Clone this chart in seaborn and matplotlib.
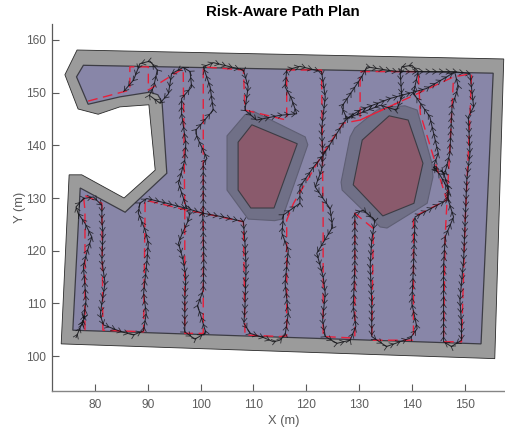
import numpy as np
import pandas as pd
import matplotlib
matplotlib.use("Agg")
import matplotlib.pyplot as plt
from matplotlib.collections import LineCollection
import seaborn as sns

TITLE = "Risk-Aware Path Plan"
XTICKS = [80, 90, 100, 110, 120, 130, 140, 150]
YTICKS = [100, 110, 120, 130, 140, 150, 160]

outer_x = [76.6, 74.3, 76.8, 80.6, 84.7, 90.2, 91.4, 85.5, 77.5, 75.1, 73.6, 155.7, 157.4]
outer_y = [158.1, 153.4, 146.9, 145.9, 147.3, 147.7, 135.3, 130.0, 134.4, 134.4, 102.3, 99.5, 156.4]
inner_x = [77.8, 76.5, 78.7, 84.7, 90.4, 91.9, 92.7, 93.6, 85.7, 77.2, 75.8, 153.1, 155.4]
inner_y = [155.2, 153.0, 147.8, 149.2, 150.1, 149.6, 148.2, 134.7, 127.3, 131.9, 104.9, 102.3, 153.7]
band1_x = [108.4, 109.9, 119.8, 120.3, 115.4, 114.0, 109.0, 105.0, 105.0]
band1_y = [145.8, 146.5, 141.6, 140.1, 126.0, 125.7, 126.0, 131.5, 141.8]
risk1_x = [109.7, 118.3, 113.9, 109.5, 107.1, 107.1]
risk1_y = [143.9, 140.3, 128.1, 128.1, 131.5, 140.6]
band2_x = [129.2, 133.4, 135.9, 138.7, 141.0, 143.8, 144.0, 142.9, 135.3, 134.0, 126.8, 126.6, 128.3]
band2_y = [143.3, 146.7, 147.3, 147.5, 146.7, 136.6, 134.0, 129.0, 124.3, 124.5, 131.5, 133.0, 141.6]
risk2_x = [135.7, 139.3, 142.1, 140.4, 134.5, 128.9, 130.6]
risk2_y = [145.6, 144.8, 136.6, 129.0, 126.6, 132.5, 141.0]

plan1_x = [78.1, 78.1, 77.8, 81.3, 81.5, 89.2, 89.5, 97.4, 100.5, 108.1, 108.4, 115.0, 116.3, 116.3, 117.6, 123.2, 127.0, 130.2, 137.8]
plan1_y = [104.9, 127.7, 130.6, 129.0, 104.9, 104.6, 129.6, 127.7, 127.1, 125.5, 104.0, 103.7, 103.8, 125.8, 129.0, 138.5, 144.2, 144.8, 148.3]
plan2_x = [78.7, 86.6, 86.6, 90.1, 90.1, 96.7, 97.0, 97.0, 100.5, 100.5, 100.5, 108.1, 108.4, 115.0, 116.3, 116.3, 122.9, 123.2,
           123.2, 129.2, 129.2, 132.7, 132.4, 140.3, 140.3, 146.6, 141.6, 141.2, 130.2, 130.2]
plan2_y = [148.4, 150.5, 154.9, 154.9, 150.5, 154.6, 127.7, 104.3, 104.3, 127.1, 154.9, 154.3, 146.7, 145.1, 144.8, 154.3, 154.3, 125.8,
           103.7, 103.4, 127.1, 124.2, 103.0, 103.0, 126.4, 129.6, 146.0, 154.0, 154.0, 144.8]
plan3_x = [130.2, 137.8, 147.9, 151.3, 151.0, 150.1, 149.4, 146.0, 146.3, 147.9]
plan3_y = [144.8, 148.3, 153.0, 153.6, 145.4, 125.8, 102.7, 102.7, 122.6, 153.0]

track1_x = [76.4, 77.8, 77.6, 77.9, 77.7, 78.0, 77.8, 78.3, 78.1, 77.8, 78.4, 79.4, 78.1, 76.8, 76.4, 77.8, 79.7, 81.3, 81.3, 81.5,
            81.3, 81.9, 81.3, 81.0, 81.6, 85.0, 87.3, 89.2, 89.7, 89.2, 89.8, 90.1, 89.5, 88.2, 88.5, 89.8, 93.6, 97.4,
            100.5, 104.3, 108.1, 108.4, 108.6, 108.5, 108.4, 108.2, 109.4, 111.9, 113.8, 115.0, 116.0, 116.6, 116.0,
            116.6, 115.4, 115.7, 118.8, 118.8, 121.4, 123.2, 127.0, 128.0, 130.2, 135.9, 142.8, 146.6, 148.2]
track1_y = [103.5, 106.8, 106.0, 107.2, 106.3, 107.6, 106.8, 110.6, 113.2, 117.0, 119.5, 122.6, 125.2, 127.1, 128.3, 129.9, 130.2, 128.6,
            125.8, 123.3, 118.2, 113.8, 110.0, 107.8, 105.9, 104.6, 104.0, 104.8, 108.1, 111.9, 117.6, 121.4, 123.9, 127.1, 129.0, 129.9,
            129.0, 128.0, 127.1, 126.4, 125.5, 121.4, 117.0, 113.2, 109.4, 106.2, 104.3, 103.5, 102.7, 103.0, 104.0, 108.1, 113.8,
            120.1, 123.3, 126.8, 129.0, 132.1, 135.9, 138.1, 144.2, 145.3, 146.7, 148.9, 150.8, 153.0, 154.0]
track2_x = [97.4, 95.8, 97.0, 97.2, 96.4, 96.4, 98.3, 98.0, 96.7, 94.5, 93.9, 92.3, 90.3, 91.1, 91.8, 90.4, 88.5, 87.3, 85.4]
track2_y = [128.0, 132.8, 137.2, 140.4, 146.0, 148.9, 151.1, 154.0, 154.8, 153.6, 149.8, 148.0, 149.5, 151.1, 154.3, 156.0, 155.5, 152.4, 150.2]
track3_x = [98.0, 97.7, 96.4, 95.8, 96.7, 97.2, 97.0, 97.0, 98.9, 101.0, 99.9, 99.4, 100.5, 100.6, 100.5, 100.4, 100.5, 100.5, 101.2,
            99.3, 99.1, 99.9, 102.4, 101.8, 100.5, 102.4, 108.1, 109.0, 108.4, 110.6, 115.0, 118.2, 117.2, 116.0, 116.3,
            118.8, 122.9, 123.6, 122.9, 123.2, 122.9, 121.7, 124.5, 125.0, 122.0, 123.2, 123.6, 123.1, 123.6, 125.8,
            128.3, 129.4, 128.9, 129.2, 129.2, 130.8, 133.0, 132.4, 132.1, 132.4, 132.4, 135.2, 139.7, 141.0, 140.0,
            140.3, 140.6, 146.6, 147.0, 145.3, 144.1, 144.7, 144.2, 145.0, 143.4, 140.3, 141.2, 140.0, 138.1, 137.8, 138.1,
            137.1, 134.0, 127.7, 126.7, 130.5, 131.5, 137.1, 141.6, 147.9, 151.0, 151.7, 150.7, 151.0, 150.4, 150.1,
            149.8, 149.1, 149.4, 149.4, 147.5, 146.0, 146.0, 146.3, 147.9, 146.9, 146.9, 146.0, 145.5, 146.2, 147.2, 147.6, 148.8, 148.2]
track3_y = [127.4, 125.8, 123.0, 121.4, 118.2, 115.1, 110.6, 104.6, 103.2, 104.4, 108.1, 109.5, 112.5, 118.2, 123.3, 127.1, 127.7, 136.6, 137.5,
            141.6, 142.9, 143.8, 146.7, 151.1, 154.9, 155.7, 154.3, 151.1, 146.7, 144.8, 145.7, 146.0, 148.9, 151.1, 154.3,
            155.0, 154.0, 149.2, 142.9, 137.8, 135.3, 132.1, 128.0, 124.5, 119.5, 115.1, 111.9, 106.8, 103.7, 102.4,
            103.0, 105.6, 109.4, 116.9, 127.1, 127.7, 125.8, 122.0, 116.9, 110.6, 103.7, 101.8, 103.4, 105.2, 110.0,
            116.9, 126.4, 129.6, 131.5, 134.4, 135.9, 135.0, 136.3, 138.5, 145.4, 149.9, 154.0, 155.2, 154.9, 153.6, 149.2,
            146.7, 147.6, 145.1, 147.3, 153.0, 154.9, 154.0, 154.0, 154.0, 153.6, 147.3, 145.4, 138.5, 133.4, 125.8,
            118.2, 110.6, 106.2, 103.0, 101.8, 102.7, 116.9, 122.6, 126.4, 129.6, 132.1, 134.7, 135.3, 134.5, 138.5, 147.3, 151.1, 153.6]

C_GRAY = "#9b9b9b"
C_FIELD = "#8886a8"
C_BAND = "#707087"
C_RISK = "#8a5a6c"
C_EDGE = "#3c3c44"
C_TEXT = "#5c5c5c"
C_AXIS = "#5a5a5a"

sns.set_style("ticks")
plt.rcParams["font.family"] = ["Liberation Sans", "DejaVu Sans"]

W, H = 505, 429
fig = plt.figure(figsize=(W / 100, H / 100), dpi=100)
ax = fig.add_axes([51.7 / W, 1 - 390.7 / H, (W - 51.7) / W, (390.7 - 24) / H])


def frame(pieces):
    parts = []
    for i, (px, py) in enumerate(pieces):
        parts.append(pd.DataFrame({"x": px, "y": py, "piece": i}))
    return pd.concat(parts, ignore_index=True)


ax.fill(outer_x, outer_y, facecolor=C_GRAY, edgecolor="#2a2a2a", linewidth=0.6, zorder=1)
ax.fill(inner_x, inner_y, facecolor=C_FIELD, edgecolor=C_EDGE, linewidth=0.9, zorder=2)
for bx, by in [(band1_x, band1_y), (band2_x, band2_y)]:
    ax.fill(bx, by, facecolor=C_BAND, edgecolor="#5f5f74", linewidth=0.8, joinstyle="round", zorder=3)
for rx, ry in [(risk1_x, risk1_y), (risk2_x, risk2_y)]:
    ax.fill(rx, ry, facecolor=C_RISK, edgecolor=C_EDGE, linewidth=0.8, zorder=4)

plans = frame([(plan1_x, plan1_y), (plan2_x, plan2_y), (plan3_x, plan3_y)])
sns.lineplot(data=plans, x="x", y="y", units="piece", estimator=None, sort=False, ax=ax,
             color="#e8203a", linewidth=1.0, linestyle=(0, (7, 4)), legend=False, zorder=5)

tracks = [(track1_x, track1_y), (track2_x, track2_y), (track3_x, track3_y)]
sns.lineplot(data=frame(tracks), x="x", y="y", units="piece", estimator=None, sort=False, ax=ax,
             color="#141418", linewidth=0.75, alpha=0.85, legend=False, zorder=6)


def chevrons(px, py, spacing=1.27, barb=0.95, spread=np.radians(35)):
    px, py = np.asarray(px, float), np.asarray(py, float)
    seg = np.hypot(np.diff(px), np.diff(py))
    dist = np.r_[0, np.cumsum(seg)]
    out = []
    for s in np.arange(spacing / 2, dist[-1], spacing):
        k = min(np.searchsorted(dist, s) - 1, len(seg) - 1)
        k = max(k, 0)
        t = (s - dist[k]) / seg[k]
        cx, cy = px[k] + t * (px[k + 1] - px[k]), py[k] + t * (py[k + 1] - py[k])
        ang = np.arctan2(py[k + 1] - py[k], px[k + 1] - px[k])
        for sign in (-1, 1):
            a = ang + np.pi + sign * spread
            out.append([(cx + barb * np.cos(a), cy + barb * np.sin(a)), (cx, cy)])
    return out


segs = []
for px, py in tracks:
    segs += chevrons(px, py)
ax.add_collection(LineCollection(segs, colors="#141418", linewidths=0.6, alpha=0.8, zorder=7))

ax.set_xlim(80 - (95 - 51.7) / 5.281, 80 + (W - 95) / 5.281)
ax.set_ylim(100 - (390.7 - 356) / 5.267, 160 + (40 - 24) / 5.267)
ax.set_xticks(XTICKS)
ax.set_yticks(YTICKS)
ax.tick_params(direction="in", length=5, width=0.8, color=C_AXIS, labelcolor=C_TEXT, labelsize=8.6)
ax.tick_params(axis="x", pad=6)
ax.tick_params(axis="y", pad=4)
ax.set_xlabel("X (m)", fontsize=9.3, color=C_TEXT, labelpad=3)
ax.xaxis.label.set_x((283.5 - 51.7) / (W - 51.7))
ax.set_ylabel("Y (m)", fontsize=9.3, color=C_TEXT, labelpad=0)
ax.set_title(TITLE, fontsize=10.8, fontweight="bold", color="black", pad=6, x=(283 - 51.7) / (W - 51.7))
sns.despine(ax=ax)
ax.spines["left"].set_color(C_AXIS)
ax.spines["left"].set_linewidth(0.9)
ax.spines["bottom"].set_color("#858585")
ax.spines["bottom"].set_linewidth(1.0)

fig.savefig("out.png", dpi=100, facecolor="white")
